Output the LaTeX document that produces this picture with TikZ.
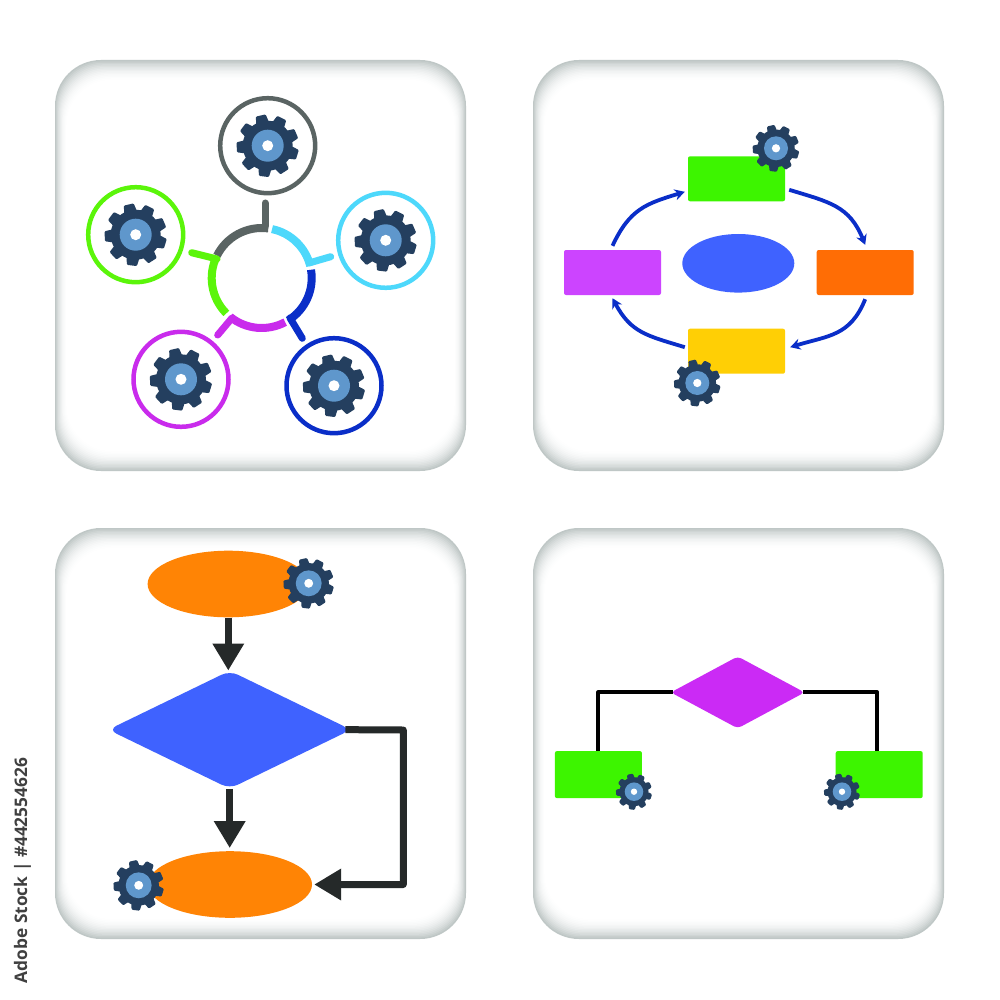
\documentclass[tikz,border=0pt]{standalone}
\usepackage{fontspec}
\setmainfont{Open Sans}
\usetikzlibrary{shapes.geometric}
\usetikzlibrary{arrows.meta}
\usetikzlibrary{calc}
\definecolor{cogDark}{HTML}{243F5F}
\definecolor{cogBlue}{HTML}{5F97CC}
\definecolor{panelEdge}{HTML}{BFC7C6}
\definecolor{ringGray}{HTML}{5A6463}
\definecolor{ringGreen}{HTML}{5BF50A}
\definecolor{ringCyan}{HTML}{4DD8FB}
\definecolor{ringBlue}{HTML}{0A2EC8}
\definecolor{ringPurple}{HTML}{C92BEC}
\definecolor{flowBlue}{HTML}{3F62FF}
\definecolor{flowGreen}{HTML}{3DF500}
\definecolor{flowPurple}{HTML}{CC44FF}
\definecolor{flowOrange}{HTML}{FF6D05}
\definecolor{flowYellow}{HTML}{FFCF05}
\definecolor{flowAmber}{HTML}{FF8405}
\definecolor{flowMagenta}{HTML}{CB2AF5}
\definecolor{lineDark}{HTML}{252929}
\begin{document}
\begin{tikzpicture}[x=1pt,y=-1pt]
\tikzset{Box/.style={rectangle, rounded corners=2pt, inner sep=0, minimum width=97pt, minimum height=45pt}}
\tikzset{SmallBox/.style={rectangle, rounded corners=2pt, inner sep=0, minimum width=87pt, minimum height=47pt, fill=flowGreen}}
\tikzset{Oval/.style={ellipse, inner sep=0}}
\tikzset{Rhomb/.style={diamond, inner sep=0}}
\tikzset{RingNode/.style={circle, inner sep=0, minimum size=95pt, line width=4.5pt, draw}}
\tikzset{RingArc/.style={line width=8pt}}
\tikzset{RingStub/.style={line width=7pt, line cap=round}}
\tikzset{CycleArrow/.style={line width=3.8pt, draw=ringBlue, looseness=1.15, -{Stealth[length=10pt,width=11pt]}}}
\tikzset{FlowArrow/.style={line width=7pt, draw=lineDark, -{Triangle[length=27pt,width=30pt]}}}
\tikzset{BranchLine/.style={line width=4pt, draw=black, line join=round}}
\tikzset{pics/cog/.style={code={
  \fill[cogDark] (0,0) circle (25);
  \foreach \a in {0,40,...,320}
    \fill[cogDark, rotate=13+\a, rounded corners=1pt] (-6.5,-23) -- (-5,-31) -- (5,-31) -- (6.5,-23) -- cycle;
  \fill[cogBlue] (0,0) circle (16);
  \fill[white] (0,0) circle (5.5);
}}}
\fill[white] (0,0) rectangle (1000,1000);
\useasboundingbox (0,0) rectangle (1000,1000);
\foreach \px/\py in {55/60,533/60,55/528,533/528} {
  \foreach \i in {0,...,15} {
    \pgfmathsetmacro{\mixval}{100*(1-\i/15)^2}
    \fill[panelEdge!\mixval!white, rounded corners=46pt]
      (\px+0.8*\i,\py+1.4*\i) rectangle (\px+411-0.8*\i,\py+411-1.4*\i);
  }
}
\node[RingNode, draw=ringGray] (ringTop) at (267.7,145.7) {};
\node[RingNode, draw=ringGreen] (ringLeft) at (135.7,234.7) {};
\node[RingNode, draw=ringCyan] (ringRight) at (385.7,240.3) {};
\node[RingNode, draw=ringBlue] (ringLow) at (334,385.7) {};
\node[RingNode, draw=ringPurple] (ringPur) at (181,379.3) {};
\coordinate (hub) at (261.7,278);
\foreach \c/\s/\e in {ringGray/206.6/277.6,ringCyan/282/346,ringBlue/350.5/418,ringPurple/62/129,ringGreen/135/205.7}
  \draw[RingArc, draw=\c] ($(hub)+(\s:50)$) arc[start angle=\s, end angle=\e, radius=50];
\coordinate (baseTop) at (265,226);
\coordinate (tipTop) at (265,203);
\coordinate (baseCyan) at (309,263);
\coordinate (tipCyan) at (330.7,256.7);
\coordinate (baseBlue) at (290,318);
\coordinate (tipBlue) at (302.3,338.3);
\coordinate (basePur) at (232,318);
\coordinate (tipPur) at (217.7,335);
\coordinate (baseGreen) at (217,259);
\coordinate (tipGreen) at (191.7,252.7);
\foreach \c/\b/\t in {ringGray/baseTop/tipTop,ringCyan/baseCyan/tipCyan,ringBlue/baseBlue/tipBlue,ringPurple/basePur/tipPur,ringGreen/baseGreen/tipGreen}
  \draw[RingStub, draw=\c] (\b) -- (\t);
\foreach \n in {ringTop,ringLeft,ringRight,ringLow,ringPur}
  \pic at (\n) {cog};
\node[Box, fill=flowGreen] (stepTop) at (736.5,178.8) {};
\node[Box, fill=flowPurple] (stepLeft) at (612.5,272.5) {};
\node[Box, fill=flowOrange] (stepRight) at (865.2,272.5) {};
\node[Box, fill=flowYellow] (stepLow) at (736.5,351.2) {};
\node[Oval, fill=flowBlue, minimum width=112pt, minimum height=58.6pt] (core) at (738.3,263.3) {};
\draw[CycleArrow] ([yshift=4pt]stepLeft.north) to[out=65, in=197] ([xshift=-3pt,yshift=-13pt]stepTop.west);
\draw[CycleArrow] ([xshift=4pt,yshift=-11pt]stepTop.east) to[out=-17, in=112] ([yshift=5pt]stepRight.north);
\draw[CycleArrow] ([yshift=-4pt]stepRight.south) to[out=-112, in=17] ([xshift=5pt,yshift=4pt]stepLow.east);
\draw[CycleArrow] ([xshift=-3pt,yshift=4pt]stepLow.west) to[out=163, in=-62] ([yshift=-3pt]stepLeft.south);
\pic[scale=0.75] at (776,148.3) {cog};
\pic[scale=0.75] at (697.3,383) {cog};
\node[Oval, fill=flowAmber, minimum width=161.4pt, minimum height=66.6pt] (startOval) at (228.3,584) {};
\node[Rhomb, fill=flowBlue, rounded corners=9pt, minimum width=243pt, minimum height=118pt, aspect=2.06] (decide) at (229.7,729.7) {};
\node[Oval, fill=flowAmber, minimum width=164pt, minimum height=66.6pt] (endOval) at (230,884.5) {};
\coordinate (turn) at (403.3,730);
\draw[FlowArrow] (startOval.south) -- (startOval.south |- decide.north);
\draw[FlowArrow, shorten >=3pt] (decide.south) -- (decide.south |- endOval.north);
\draw[FlowArrow, line join=round, shorten <=-6pt, shorten >=2pt] (decide.east) -- (turn) |- (endOval.east);
\pic[scale=0.81] at (308.7,583.3) {cog};
\pic[scale=0.81] at (138.7,885.3) {cog};
\node[Rhomb, fill=flowMagenta, rounded corners=4pt, minimum width=134pt, minimum height=72pt, aspect=1.86] (choice) at (737.7,692.4) {};
\node[SmallBox] (leafLeft) at (598.4,774.6) {};
\node[SmallBox] (leafRight) at (879.2,774.6) {};
\draw[BranchLine, shorten <=-2pt] (choice.west) -| (leafLeft.north);
\draw[BranchLine, shorten <=-2pt] (choice.east) -| ([xshift=-2pt]leafRight.north);
\pic[scale=0.58] at (634,791.7) {cog};
\pic[scale=0.58] at (842,791.7) {cog};
\node[rotate=90, text=black!75, font=\bfseries\fontsize{17.3}{17.3}\selectfont, inner sep=0] (stockTag) at (22.5,870.5) {Adobe Stock | \#442554626};
\end{tikzpicture}
\end{document}
